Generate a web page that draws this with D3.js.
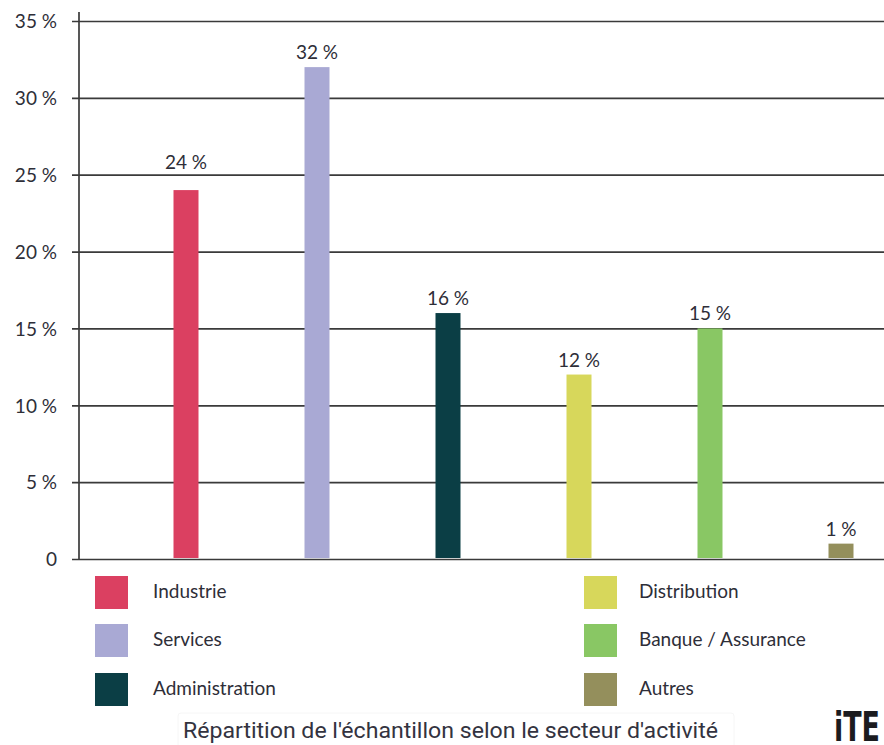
<!DOCTYPE html>
<html>
<head>
<meta charset="utf-8">
<script src="https://cdn.jsdelivr.net/npm/d3@7"></script>
<style>
  html, body { margin: 0; padding: 0; background: #fff; }
  svg { display: block; }
</style>
</head>
<body>
<svg id="chart" width="884" height="745"></svg>
<script>
const categories = ["Industrie", "Services", "Administration", "Distribution", "Banque / Assurance", "Autres"];
const values = [24, 32, 16, 12, 15, 1];
const valueLabels = ["24 %", "32 %", "16 %", "12 %", "15 %", "1 %"];
const colors = ["#db4061", "#a9a9d4", "#0b3e45", "#d7d75b", "#89c764", "#948f5c"];
const tickValues = [0, 5, 10, 15, 20, 25, 30, 35];
const tickLabels = ["0", "5 %", "10 %", "15 %", "20 %", "25 %", "30 %", "35 %"];
const title = "Répartition de l'échantillon selon le secteur d'activité";

const svg = d3.select("#chart");
const font = "Lato, 'Open Sans', sans-serif";
const textColor = "#2e2e38";

const y = d3.scaleLinear().domain([0, 35]).range([559, 21]);
const step = 131;
const x = d3.scaleBand().domain(categories)
  .range([120.5, 120.5 + step * categories.length])
  .paddingInner(1 - 25 / step).paddingOuter((1 - 25 / step) / 2);

// Gridlines + ticks
const axisX = 79;
const yAxis = d3.axisLeft(y).tickValues(tickValues)
  .tickSize(-(884 - axisX)).tickSizeOuter(0)
  .tickFormat((d, i) => tickLabels[i]);
const gy = svg.append("g").attr("transform", `translate(${axisX},0)`).call(yAxis);
gy.select(".domain").remove();
gy.selectAll(".tick line").attr("stroke", "#3a3a3a").attr("stroke-width", 1.7).attr("x1", -7);
gy.selectAll(".tick text").attr("x", -22).attr("font-family", font).attr("font-size", 19)
  .attr("fill", textColor).attr("dy", "0.36em");

// vertical axis line
svg.append("line").attr("x1", axisX).attr("x2", axisX).attr("y1", 12).attr("y2", y(0))
  .attr("stroke", "#3a3a3a").attr("stroke-width", 1.7);

// Bars
svg.append("g").selectAll("rect").data(categories).join("rect")
  .attr("x", d => x(d))
  .attr("width", x.bandwidth())
  .attr("y", (d, i) => y(values[i]))
  .attr("height", (d, i) => y(0) - y(values[i]) - 1)
  .attr("fill", (d, i) => colors[i]);

// Value labels: placed above the bar, lifted above a gridline if they would cross it
function labelBaseline(v) {
  let base = y(v) - 8;
  const top = base - 14;
  for (const t of tickValues) {
    const gyv = y(t);
    if (gyv > top - 2 && gyv < base + 2 && Math.abs(gyv - y(v)) > 1) {
      base = gyv - 6;
    }
  }
  return base;
}
svg.append("g").selectAll("text").data(categories).join("text")
  .attr("x", d => x(d) + x.bandwidth() / 2)
  .attr("y", (d, i) => labelBaseline(values[i]))
  .attr("text-anchor", "middle")
  .attr("font-family", font).attr("font-size", 19).attr("fill", textColor)
  .text((d, i) => valueLabels[i]);

// Legend
const legX = [95, 584];
const legTextX = [153, 639];
const legY = [576, 624, 673];
const leg = svg.append("g").selectAll("g").data(categories).join("g")
  .attr("transform", (d, i) => `translate(${legX[Math.floor(i / 3)]},${legY[i % 3]})`);
leg.append("rect").attr("width", 33).attr("height", 33)
  .attr("fill", (d, i) => colors[i]);
leg.append("text")
  .attr("x", (d, i) => legTextX[Math.floor(i / 3)] - legX[Math.floor(i / 3)])
  .attr("y", 22)
  .attr("font-family", font).attr("font-size", 19).attr("fill", textColor)
  .text(d => d);

// Title box and title
svg.append("rect").attr("x", 178).attr("y", 713).attr("width", 556).attr("height", 40)
  .attr("fill", "none").attr("stroke", "#f6f6f6").attr("stroke-width", 1).attr("rx", 3);
svg.append("text").attr("x", 183).attr("y", 738)
  .attr("font-family", "Roboto, sans-serif").attr("font-size", 22).attr("fill", "#333340")
  .attr("textLength", 535).attr("lengthAdjust", "spacingAndGlyphs")
  .text(title);

// Logo
svg.append("text").attr("x", 834).attr("y", 741)
  .attr("font-family", "'DejaVu Sans', sans-serif").attr("font-weight", 900)
  .attr("font-size", 40).attr("fill", "#1b1b1f")
  .attr("textLength", 46).attr("lengthAdjust", "spacingAndGlyphs")
  .text("iTE");
</script>
</body>
</html>
